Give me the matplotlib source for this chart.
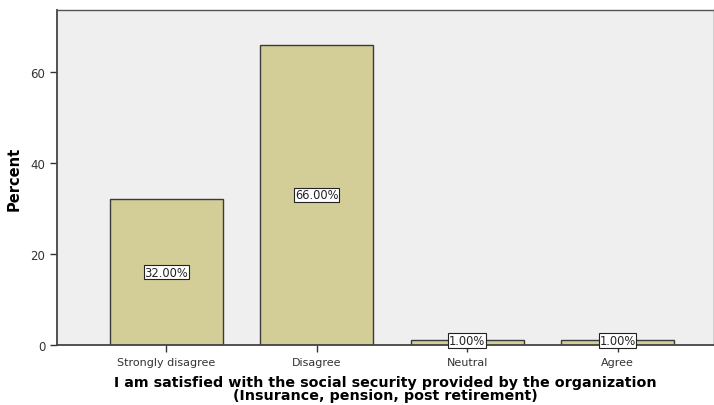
import matplotlib
matplotlib.use("Agg")
import matplotlib.pyplot as plt

categories = ["Strongly disagree", "Disagree", "Neutral", "Agree"]
percents = [32.0, 66.0, 1.0, 1.0]
yticks = [0, 20, 40, 60]

fig = plt.figure(figsize=(7.14, 4.06), dpi=100)
ax = fig.add_axes([57/714, 60/406, 657/714, 335/406])
ax.set_facecolor("#efefef")
x = list(range(len(categories)))
ax.bar(x, percents, width=0.75, color="#d3ce97", edgecolor="#3a3a3a", linewidth=1.0, zorder=2)
for xi, v in zip(x, percents):
    ax.text(xi, max(v / 2, 1.0), f"{v:.2f}%", ha="center", va="center", fontsize=8.3,
            color="#222222", zorder=3,
            bbox=dict(boxstyle="square,pad=0.05", facecolor="white", edgecolor="#222222", linewidth=0.8))
ax.set_xlim(-0.725, 3.64)
ax.set_ylim(0, 73.6)
ax.set_xticks(x)
ax.set_xticklabels(categories, fontsize=8, color="#333333")
ax.set_yticks(yticks)
ax.set_yticklabels([str(t) for t in yticks], fontsize=8.5, color="#333333")
ax.tick_params(axis="both", direction="out", length=5, width=1, color="#333333")
for s in ["left", "bottom"]:
    ax.spines[s].set_linewidth(1.3)
    ax.spines[s].set_color("#444444")
for s in ["top", "right"]:
    ax.spines[s].set_linewidth(1.0)
    ax.spines[s].set_color("#555555")
ax.set_ylabel("Percent", fontsize=10.5, fontweight="bold", labelpad=6)
ax.set_xlabel("I am satisfied with the social security provided by the organization\n(Insurance, pension, post retirement)",
              fontsize=10.3, fontweight="bold", labelpad=6, linespacing=0.88)
fig.savefig("out.png", dpi=100, facecolor="white")
